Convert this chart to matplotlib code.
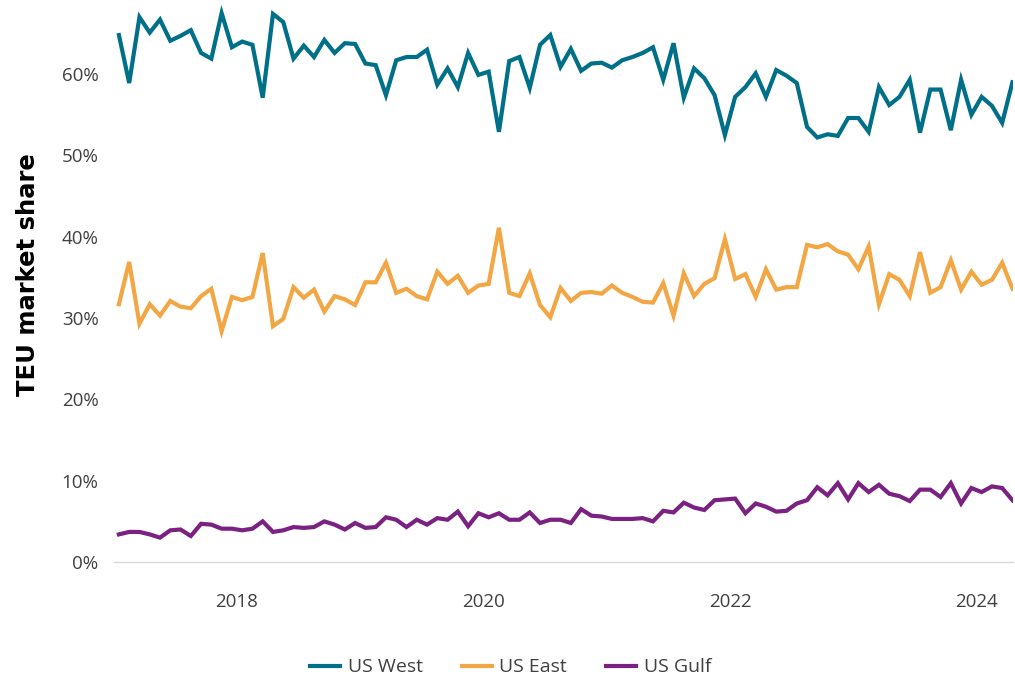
import numpy as np
import matplotlib
matplotlib.use("Agg")
import matplotlib.pyplot as plt

# monthly TEU market share (%), Jan 2017 - Apr 2024
us_west = [64.8, 58.9, 67.0, 65.1, 66.7, 64.1, 64.7, 65.4, 62.6, 61.9, 67.5, 63.3,
           64.0, 63.6, 57.1, 67.4, 66.4, 61.9, 63.5, 62.1, 64.2, 62.6, 63.8, 63.7,
           61.3, 61.1, 57.4, 61.7, 62.1, 62.1, 63.0, 58.7, 60.7, 58.4, 62.6, 59.9,
           60.3, 52.9, 61.6, 62.1, 58.3, 63.6, 64.8, 60.9, 63.1, 60.4, 61.3, 61.4,
           60.8, 61.7, 62.1, 62.6, 63.3, 59.3, 63.8, 57.1, 60.7, 59.5, 57.4, 52.5,
           57.2, 58.4, 60.1, 57.2, 60.5, 59.8, 58.9, 53.5, 52.2, 52.6, 52.4, 54.6,
           54.6, 52.9, 58.4, 56.2, 57.2, 59.3, 52.8, 58.1, 58.1, 53.1, 59.3, 55.0,
           57.2, 56.1, 54.0, 59.0]
us_east = [31.7, 36.9, 29.3, 31.7, 30.3, 32.1, 31.4, 31.2, 32.7, 33.6, 28.4, 32.6,
           32.2, 32.6, 38.0, 29.0, 29.9, 33.8, 32.5, 33.5, 30.8, 32.7, 32.3, 31.6,
           34.4, 34.4, 36.8, 33.1, 33.6, 32.7, 32.3, 35.7, 34.2, 35.2, 33.1, 34.0,
           34.2, 41.1, 33.1, 32.7, 35.5, 31.6, 30.1, 33.7, 32.1, 33.1, 33.2, 33.0,
           34.0, 33.1, 32.6, 32.0, 31.9, 34.3, 30.3, 35.5, 32.7, 34.2, 34.9, 39.7,
           34.8, 35.4, 32.6, 36.0, 33.5, 33.8, 33.8, 39.0, 38.7, 39.1, 38.2, 37.8,
           36.0, 38.8, 31.7, 35.4, 34.7, 32.7, 38.1, 33.1, 33.8, 37.1, 33.5, 35.7,
           34.1, 34.7, 36.8, 33.6]
us_gulf = [3.4, 3.7, 3.7, 3.4, 3.0, 3.9, 4.0, 3.2, 4.7, 4.6, 4.1, 4.1,
           3.9, 4.1, 5.0, 3.7, 3.9, 4.3, 4.2, 4.3, 5.0, 4.6, 4.0, 4.8,
           4.2, 4.3, 5.5, 5.2, 4.3, 5.2, 4.6, 5.4, 5.2, 6.2, 4.4, 6.0,
           5.5, 6.0, 5.2, 5.2, 6.1, 4.8, 5.2, 5.2, 4.8, 6.5, 5.7, 5.6,
           5.3, 5.3, 5.3, 5.4, 5.0, 6.3, 6.1, 7.3, 6.7, 6.4, 7.6, 7.7,
           7.8, 6.0, 7.2, 6.8, 6.2, 6.3, 7.2, 7.6, 9.2, 8.2, 9.7, 7.7,
           9.7, 8.6, 9.5, 8.4, 8.1, 7.5, 8.9, 8.9, 8.0, 9.7, 7.2, 9.1,
           8.6, 9.3, 9.1, 7.6]

series_names = ["US West", "US East", "US Gulf"]
series_colors = ["#006F88", "#F2A644", "#7A2182"]

start_year = 2017
months = np.arange(len(us_west))
x = start_year + (months + 0.5) / 12.0

plt.rcParams['font.family'] = ['Open Sans', 'DejaVu Sans']

fig = plt.figure(figsize=(10.15, 6.81), dpi=100)
ax = fig.add_axes([0.1121, 0.1747, 0.8864, 0.818])

for vals, name, col in zip([us_west, us_east, us_gulf], series_names, series_colors):
    ax.plot(x, vals, color=col, lw=3.0, label=name, solid_joinstyle='miter')

ax.set_xlim(2017.0, 2024.30)
ax.set_ylim(0, 68.5)
ax.set_yticks(np.arange(0, 70, 10))
ax.set_yticklabels([f"{v}%" for v in range(0, 70, 10)])
ax.set_xticks([2018, 2020, 2022, 2024])
ax.set_xticklabels(["2018", "2020", "2022", "2024"])

for s in ["top", "right", "left"]:
    ax.spines[s].set_visible(False)
ax.spines["bottom"].set_color("#d9d9d9")
ax.spines["bottom"].set_linewidth(1.0)
ax.tick_params(axis="both", length=0, labelsize=13.5, labelcolor="#404040")
ax.tick_params(axis="y", pad=11)
ax.tick_params(axis="x", pad=22)

fig.text(0.028, 0.596, "TEU market share", rotation=90, ha="center", va="center",
         fontsize=17.5, fontweight="bold", color="black", family="DejaVu Sans")

leg = fig.legend(loc="center", bbox_to_anchor=(0.503, 0.02), ncol=3, frameon=False,
                 fontsize=14, handlelength=1.55, handletextpad=0.4, columnspacing=2.0)
for t in leg.get_texts():
    t.set_color("#404040")

fig.savefig("out.png", dpi=100)
